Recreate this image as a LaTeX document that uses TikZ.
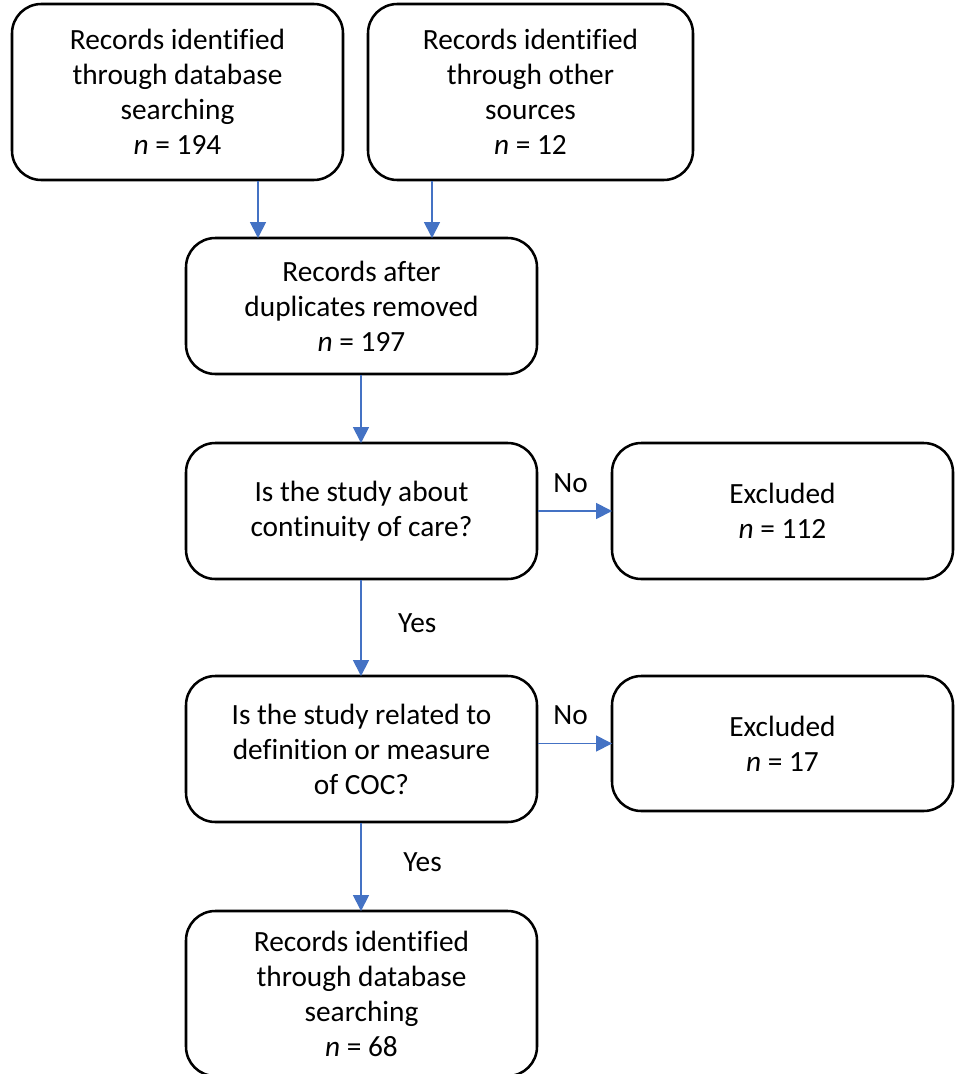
\documentclass[tikz,border=0pt]{standalone}
\usepackage{fontspec}
\setmainfont[Ligatures=NoCommon]{Carlito}
\usetikzlibrary{arrows.meta}

\definecolor{ArrowBlue}{HTML}{4472C4}

\tikzset{
	box/.style={draw, line width=1.9pt, rounded corners=22pt, align=center,
		font=\fontsize{22}{26.25}\selectfont, inner sep=0pt},
	arr/.style={draw=ArrowBlue, line width=1pt, -{Triangle[width=12pt,length=12pt]}, shorten >=-1pt},
	lab/.style={font=\fontsize{22}{26.25}\selectfont}
}

\begin{document}
\begin{tikzpicture}[x=0.75pt,y=-0.75pt]
\def\colw{351}
\def\sidew{341}
\def\colx{361}
\useasboundingbox (0,0) rectangle (955,1074);

% top row
\node[box, minimum width={331*0.75pt}, minimum height={176*0.75pt}] (b1) at (177.5,92)
	{Records identified\\through database\\searching\\\textit{n} = 194};
\node[box, minimum width={325*0.75pt}, minimum height={176*0.75pt}] (b2) at (530.5,92)
	{Records identified\\through other\\sources\\\textit{n} = 12};

% main column
\node[box, minimum width={\colw*0.75pt}, minimum height={136*0.75pt}] (b3) at (361.5,306)
	{Records after\\duplicates removed\\\textit{n} = 197};
\node[box, minimum width={\colw*0.75pt}, minimum height={136*0.75pt}] (b4) at (361.5,511)
	{Is the study about\\continuity of care?};
\node[box, minimum width={\colw*0.75pt}, minimum height={146*0.75pt}] (b6) at (361.5,749)
	{Is the study related to\\definition or measure\\of COC?};
\node[box, minimum width={\colw*0.75pt}, minimum height={165*0.75pt}] (b8) at (361.5,993.5)
	{Records identified\\through database\\searching\\\textit{n} = 68};

% excluded
\node[box, minimum width={\sidew*0.75pt}, minimum height={136*0.75pt}] (b5) at (782.5,511)
	{Excluded\\\textit{n} = 112};
\node[box, minimum width={\sidew*0.75pt}, minimum height={135*0.75pt}] (b7) at (782.5,743.5)
	{Excluded\\\textit{n} = 17};

% arrows
\draw[arr] (b1.south -| 258,0) -- (b3.north -| 258,0);
\draw[arr] (b2.south -| 432,0) -- (b3.north -| 432,0);
\draw[arr] (b3.south -| \colx,0) -- (b4.north -| \colx,0);
\draw[arr] (b4.south -| \colx,0) -- node[lab, pos=0.45, right=24pt] (yes1) {Yes} (b6.north -| \colx,0);
\draw[arr] (b6.south -| \colx,0) -- node[lab, pos=0.45, right=28pt] (yes2) {Yes} (b8.north -| \colx,0);
\draw[arr] (b4.east) -- node[lab, above=10pt, xshift=-3pt] (no1) {No} (b5.west);
\draw[arr] (b6.east |- b7.west) -- node[lab, above=10pt, xshift=-3pt] (no2) {No} (b7.west);

\end{tikzpicture}
\end{document}
